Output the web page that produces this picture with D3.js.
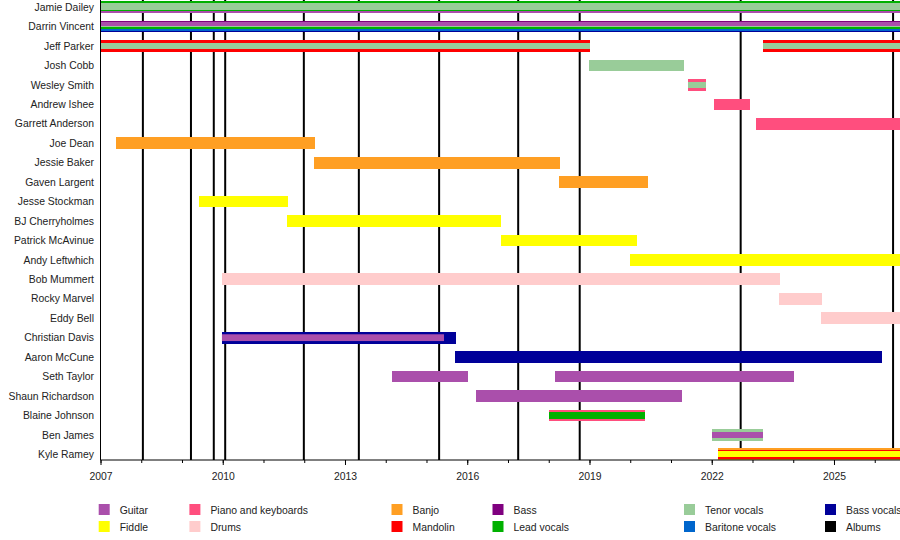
<!DOCTYPE html>
<html>
<head>
<meta charset="utf-8">
<script src="https://cdn.jsdelivr.net/npm/d3@7"></script>
<style>
  body { margin: 0; background: #fff; }
  text { font-family: "Liberation Sans", Arial, sans-serif; }
</style>
</head>
<body>
<svg width="900" height="540"></svg>
<script>
// members, top to bottom
var members = ["Jamie Dailey", "Darrin Vincent", "Jeff Parker", "Josh Cobb", "Wesley Smith",
  "Andrew Ishee", "Garrett Anderson", "Joe Dean", "Jessie Baker", "Gaven Largent",
  "Jesse Stockman", "BJ Cherryholmes", "Patrick McAvinue", "Andy Leftwhich", "Bob Mummert",
  "Rocky Marvel", "Eddy Bell", "Christian Davis", "Aaron McCune", "Seth Taylor",
  "Shaun Richardson", "Blaine Johnson", "Ben James", "Kyle Ramey"]

var roles = ["guitar", "fiddle", "piano", "drums", "banjo", "mandolin", "bass", "lead", "tenor", "baritone", "bassvoc", "albums"]
var roleLabels = ["Guitar", "Fiddle", "Piano and keyboards", "Drums", "Banjo", "Mandolin", "Bass",
  "Lead vocals", "Tenor vocals", "Baritone vocals", "Bass vocals", "Albums"]
var roleColors = ["#aa4fab", "#ffff00", "#ff4e7e", "#ffcccc", "#ff9f23", "#ff0000", "#7f007f",
  "#00b000", "#99cc99", "#0066cc", "#000099", "#000000"]

var START = 2007, END = 2026.62, NOW = 2027

// stints: name, from, to, stripes (top to bottom)
var stints = [
  ["Jamie Dailey", 2007, NOW, ["lead", "tenor", "tenor", "tenor", "tenor", "lead", "guitar"]],
  ["Darrin Vincent", 2007, NOW, ["bass", "guitar", "guitar", "tenor", "lead", "baritone", "bassvoc"]],
  ["Jeff Parker", 2007, 2019.01, ["mandolin", "tenor", "tenor", "mandolin"]],
  ["Jeff Parker", 2023.26, NOW, ["mandolin", "tenor", "tenor", "mandolin"]],
  ["Josh Cobb", 2018.99, 2021.32, ["tenor"]],
  ["Wesley Smith", 2021.42, 2021.86, ["piano", "tenor", "tenor", "piano"]],
  ["Andrew Ishee", 2022.05, 2022.94, ["piano"]],
  ["Garrett Anderson", 2023.09, NOW, ["piano"]],
  ["Joe Dean", 2007.38, 2012.26, ["banjo"]],
  ["Jessie Baker", 2012.24, 2018.28, ["banjo"]],
  ["Gaven Largent", 2018.25, 2020.43, ["banjo"]],
  ["Jesse Stockman", 2009.42, 2011.6, ["fiddle"]],
  ["BJ Cherryholmes", 2011.58, 2016.83, ["fiddle"]],
  ["Patrick McAvinue", 2016.83, 2020.17, ["fiddle"]],
  ["Andy Leftwhich", 2020.0, NOW, ["fiddle"]],
  ["Bob Mummert", 2009.98, 2023.68, ["drums"]],
  ["Rocky Marvel", 2023.65, 2024.7, ["drums"]],
  ["Eddy Bell", 2024.68, NOW, ["drums"]],
  ["Christian Davis", 2009.98, 2015.72, ["bassvoc"]],
  ["Aaron McCune", 2015.7, 2026.18, ["bassvoc"]],
  ["Seth Taylor", 2014.15, 2016.02, ["guitar"]],
  ["Seth Taylor", 2018.15, 2024.02, ["guitar"]],
  ["Shaun Richardson", 2016.21, 2021.27, ["guitar"]],
  ["Blaine Johnson", 2018.0, 2020.36, ["piano", "lead", "lead", "lead", "lead", "piano"]],
  ["Ben James", 2022.0, 2023.26, ["tenor", "guitar", "guitar", "tenor"]],
  ["Kyle Ramey", 2022.15, NOW, ["banjo", "mandolin", "fiddle", "fiddle", "fiddle", "fiddle", "mandolin", "banjo"]]
]

// narrower bars laid inside a stint
var overlays = [
  ["Christian Davis", 2009.98, 2015.43, "guitar"]
]

var albums = [2008.04, 2009.22, 2009.78, 2010.06, 2011.99, 2013.34, 2015.31, 2017.25, 2018.76, 2022.71, 2026.45]

var tickYears = [2007, 2010, 2013, 2016, 2019, 2022, 2025]

var color = d3.scaleOrdinal().domain(roles).range(roleColors)

var left = 100.5, right = 900, axisY = 460, barH = 11.7, fs = 10.4

var x = d3.scaleLinear().domain([START, END]).range([left, right])
var y = d3.scalePoint().domain(members).range([7.2, 454.3])

var svg = d3.select("svg")

svg.append("defs").append("clipPath").attr("id", "plot")
  .append("rect").attr("x", left).attr("y", 0).attr("width", right - left).attr("height", axisY)

var plot = svg.append("g").attr("clip-path", "url(#plot)")

// album lines under the bars
plot.selectAll("line.album")
  .data(albums)
  .enter().append("line")
  .attr("class", "album")
  .attr("x1", d => x(d)).attr("x2", d => x(d))
  .attr("y1", 0).attr("y2", axisY)
  .attr("stroke", "#000")
  .attr("stroke-width", 2)

// stints drawn as horizontal stripes
stints.forEach(function (s) {
  var n = s[3].length,
      h = barH / n,
      top = y(s[0]) - barH / 2
  plot.selectAll(null)
    .data(s[3])
    .enter().append("rect")
    .attr("x", x(s[1]))
    .attr("width", x(s[2]) - x(s[1]))
    .attr("y", (d, i) => top + i * h)
    .attr("height", h + 0.01)
    .attr("fill", d => color(d))
    .attr("shape-rendering", "crispEdges")
})

plot.selectAll("rect.overlay")
  .data(overlays)
  .enter().append("rect")
  .attr("class", "overlay")
  .attr("x", d => x(d[1]))
  .attr("width", d => x(d[2]) - x(d[1]))
  .attr("y", d => y(d[0]) - barH * 0.29)
  .attr("height", barH * 0.58)
  .attr("fill", d => color(d[3]))

// names
svg.selectAll("text.name")
  .data(members)
  .enter().append("text")
  .attr("class", "name")
  .attr("x", 94)
  .attr("y", d => y(d))
  .attr("dy", "0.35em")
  .attr("text-anchor", "end")
  .attr("font-size", fs)
  .attr("fill", "#222")
  .text(d => d)

// axes
svg.append("line")
  .attr("x1", left).attr("x2", left).attr("y1", 0).attr("y2", axisY)
  .attr("stroke", "#000").attr("stroke-width", 1)

var xAxis = d3.axisBottom(x)
  .tickValues(d3.range(START, 2027, 1))
  .tickSize(3)
  .tickFormat("")
svg.append("g").attr("transform", "translate(0," + axisY + ")")
  .call(xAxis)
  .call(g => g.select(".domain").attr("d", "M" + left + ",0H" + right))

var majorAxis = d3.axisBottom(x)
  .tickValues(tickYears)
  .tickSize(5)
  .tickPadding(8)
  .tickFormat(d3.format("d"))
svg.append("g").attr("transform", "translate(0," + axisY + ")")
  .call(majorAxis)
  .call(g => g.select(".domain").remove())
  .call(g => g.selectAll("text").attr("font-size", fs).attr("font-family", "Liberation Sans, Arial, sans-serif").attr("fill", "#222"))

// legend: two rows, six columns
var legendCols = [98.7, 189.4, 391.5, 492.5, 684, 825]
var legend = svg.selectAll("g.legend")
  .data(roles)
  .enter().append("g")
  .attr("class", "legend")
  .attr("transform", (d, i) => "translate(" + legendCols[Math.floor(i / 2)] + "," + (504 + (i % 2) * 17) + ")")

legend.append("rect")
  .attr("width", 11).attr("height", 11)
  .attr("fill", d => color(d))

legend.append("text")
  .attr("x", 21).attr("y", 6)
  .attr("dy", "0.35em")
  .attr("font-size", fs)
  .attr("fill", "#222")
  .text((d, i) => roleLabels[i])
</script>
</body>
</html>
